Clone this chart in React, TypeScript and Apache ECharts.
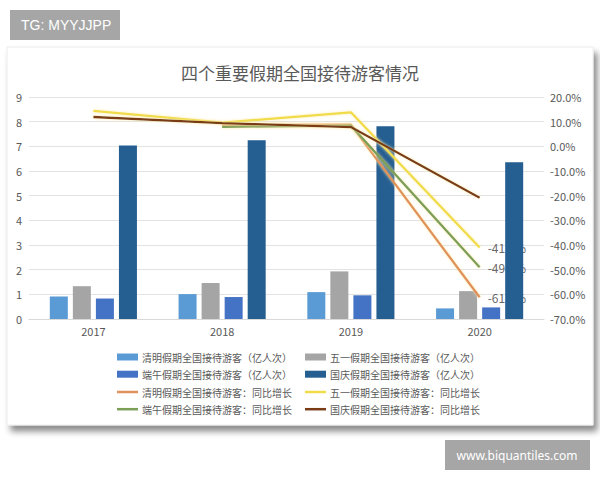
import React, { useEffect, useRef } from "react";
import * as echarts from "echarts";

const years = ["2017", "2018", "2019", "2020"];

const qmVisitors = [0.91, 1.01, 1.09, 0.43];
const wyVisitors = [1.33, 1.46, 1.93, 1.13];
const dwVisitors = [0.83, 0.89, 0.96, 0.47];
const gqVisitors = [7.03, 7.25, 7.81, 6.35];

const qmGrowth = [null, 8.6, 8.8, -61.2];
const wyGrowth = [14.4, 9.6, 13.8, -41.0];
const dwGrowth = [null, 7.9, 8.4, -49.0];
const gqGrowth = [11.9, 9.4, 7.8, -20.8];

const leftTicks = { min: 0, max: 9, interval: 1 };
const rightTicks = { min: -70, max: 20, interval: 10 };

const names = {
  qmB: "清明假期全国接待游客（亿人次）",
  wyB: "五一假期全国接待游客（亿人次）",
  dwB: "端午假期全国接待游客（亿人次）",
  gqB: "国庆假期全国接待游客（亿人次）",
  qmL: "清明假期全国接待游客：同比增长",
  wyL: "五一假期全国接待游客：同比增长",
  dwL: "端午假期全国接待游客：同比增长",
  gqL: "国庆假期全国接待游客：同比增长",
};

const FONT = "'Noto Sans CJK SC', 'Noto Sans', sans-serif";
const TXT = "#595959";

export default function App() {
  const ref = useRef<HTMLDivElement>(null);
  useEffect(() => {
    if (!ref.current) return;
    const chart = echarts.init(ref.current, null, { renderer: "svg" });
    const barStyle = (color: string) => ({ color });
    const lineSeries = (name: string, data: (number | null)[], color: string) => ({
      name,
      type: "line",
      yAxisIndex: 1,
      data,
      symbol: "none",
      z: 4,
      lineStyle: {
        color,
        width: 2.3,
        shadowColor: "rgba(255,235,170,0.9)",
        shadowBlur: 3,
      },
      itemStyle: { color },
    });
    const endLabel = (data: (number | null)[]) => ({
      type: "scatter",
      yAxisIndex: 1,
      z: 1,
      symbolSize: 0,
      silent: true,
      data: data.map((v, i) => (i === data.length - 1 ? v : null)),
      label: {
        show: true,
        position: "right",
        distance: 8,
        color: "#404040",
        fontSize: 12,
        fontFamily: FONT,
        formatter: (p: any) => Number(p.value).toFixed(1) + "%",
      },
    });
    const legendBase = {
      orient: "vertical",
      itemWidth: 21,
      itemHeight: 7,
      itemGap: 5.2,
      icon: "rect",
      textStyle: { color: TXT, fontSize: 10, fontFamily: FONT, lineHeight: 12, padding: [0, 0, 0, -1] },
      selectedMode: false,
      padding: 0,
    };
    const lineLegend = { ...legendBase, itemHeight: 2.5 };
    chart.setOption({
      animation: false,
      backgroundColor: "#ffffff",
      textStyle: { fontFamily: FONT },
      title: {
        text: "四个重要假期全国接待游客情况",
        left: "center",
        top: 59,
        textStyle: { color: TXT, fontSize: 17, fontWeight: "normal", fontFamily: FONT },
      },
      graphic: [
        {
          type: "rect",
          shape: { x: 7, y: 47, width: 586, height: 378 },
          style: {
            fill: "#ffffff",
            stroke: "#ececec",
            lineWidth: 1,
            shadowColor: "rgba(0,0,0,0.45)",
            shadowBlur: 6,
            shadowOffsetX: 4,
            shadowOffsetY: 6,
          },
          z: -10,
        },
        {
          type: "rect",
          shape: { x: 10, y: 10, width: 110, height: 30 },
          style: { fill: "#a6a6a6" },
          z: -5,
        },
        {
          type: "text",
          x: 21,
          y: 25,
          style: {
            text: "TG: MYYJJPP",
            fill: "#ffffff",
            fontSize: 14,
            fontFamily: "'Liberation Sans', Arial, sans-serif",
            verticalAlign: "middle",
          },
          z: -4,
        },
        {
          type: "rect",
          shape: { x: 445, y: 440, width: 145, height: 30 },
          style: { fill: "#a6a6a6" },
          z: -5,
        },
        {
          type: "text",
          x: 517,
          y: 455,
          style: {
            text: "www.biquantiles.com",
            fill: "#ffffff",
            fontSize: 12,
            fontFamily: "'Noto Sans', sans-serif",
            align: "center",
            verticalAlign: "middle",
          },
          z: -4,
        },
      ],
      legend: [
        { ...legendBase, left: 117, top: 351, data: [names.qmB, names.dwB] },
        { ...legendBase, left: 305, top: 351, data: [names.wyB, names.gqB] },
        { ...lineLegend, left: 117, top: 386, data: [names.qmL, names.dwL] },
        { ...lineLegend, left: 305, top: 386, data: [names.wyL, names.gqL] },
      ],
      grid: { left: 29, right: 56, top: 97, bottom: 161 },
      xAxis: {
        type: "category",
        data: years,
        axisLine: { lineStyle: { color: "#d9d9d9" } },
        axisTick: { show: false },
        axisLabel: { color: TXT, fontSize: 11, margin: 6, fontFamily: FONT },
      },
      yAxis: [
        {
          type: "value",
          ...leftTicks,
          axisLine: { show: false },
          axisTick: { show: false },
          axisLabel: { color: TXT, fontSize: 11, margin: 7, fontFamily: FONT },
          splitLine: { lineStyle: { color: "#e3e3e3" } },
        },
        {
          type: "value",
          ...rightTicks,
          position: "right",
          axisLine: { show: false },
          axisTick: { show: false },
          axisLabel: {
            color: TXT,
            fontSize: 11,
            margin: 6,
            fontFamily: FONT,
            formatter: (v: number) => v.toFixed(1) + "%",
          },
          splitLine: { show: false },
        },
      ],
      series: [
        { name: names.qmB, type: "bar", data: qmVisitors, barWidth: 18, barGap: "28%", z: 2, itemStyle: barStyle("#5b9bd5") },
        { name: names.wyB, type: "bar", data: wyVisitors, barWidth: 18, barGap: "28%", z: 2, itemStyle: barStyle("#a5a5a5") },
        { name: names.dwB, type: "bar", data: dwVisitors, barWidth: 18, barGap: "28%", z: 2, itemStyle: barStyle("#4472c4") },
        { name: names.gqB, type: "bar", data: gqVisitors, barWidth: 18, barGap: "28%", z: 2, itemStyle: barStyle("#255e91") },
        lineSeries(names.qmL, qmGrowth, "#e0925a"),
        lineSeries(names.wyL, wyGrowth, "#f0dc48"),
        lineSeries(names.dwL, dwGrowth, "#7c9f58"),
        lineSeries(names.gqL, gqGrowth, "#7a3c16"),
        endLabel(qmGrowth),
        endLabel(wyGrowth),
        endLabel(dwGrowth),
      ],
    });
    return () => chart.dispose();
  }, []);
  return (
    <div
      ref={ref}
      style={{ position: "fixed", left: 0, top: 0, width: 600, height: 480 }}
    />
  );
}
